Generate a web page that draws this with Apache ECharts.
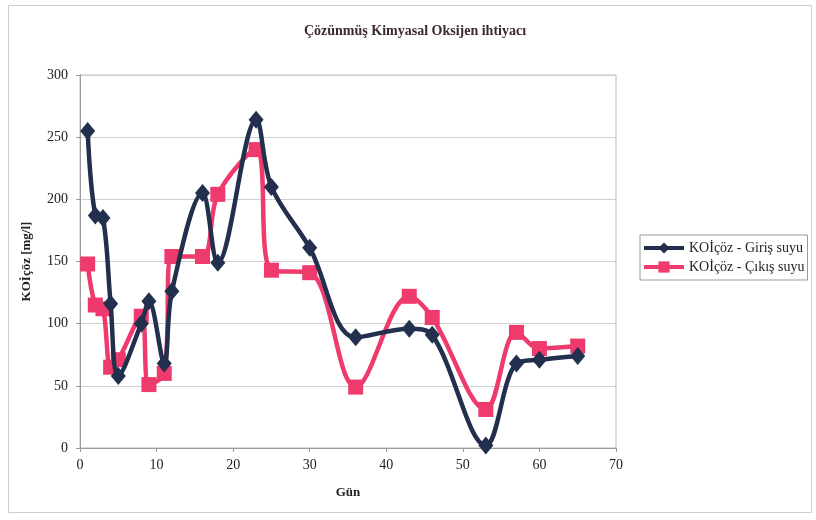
<!DOCTYPE html>
<html>
<head>
<meta charset="utf-8">
<script src="https://cdn.jsdelivr.net/npm/echarts@6/dist/echarts.min.js"></script>
<style>html,body{margin:0;padding:0;background:#fff}#c{width:816px;height:520px}</style>
</head>
<body>
<div id="c"></div>
<script>
const titleText = 'Çözünmüş Kimyasal Oksijen ihtiyacı';
const xName = 'Gün';
const yName = 'KOİçöz [mg/l]';
const seriesNames = ['KOİçöz - Giriş suyu', 'KOİçöz - Çıkış suyu'];
const days = [1, 2, 3, 4, 5, 8, 9, 11, 12, 16, 18, 23, 25, 30, 36, 43, 46, 53, 57, 60, 65];
const giris = [255, 187, 185, 116, 58, 100, 118, 68, 126, 205, 149, 264, 210, 161, 89, 96, 91, 2, 68, 71, 74];
const cikis = [148, 115, 112, 65, 71, 106, 51, 60, 154, 154, 204, 240, 143, 141, 49, 122, 105, 31, 93, 80, 82];
const xTicks = [0, 10, 20, 30, 40, 50, 60, 70];
const yTicks = [0, 50, 100, 150, 200, 250, 300];

const serif = '"Liberation Serif", "DejaVu Serif", serif';
const chart = echarts.init(document.getElementById('c'));
const pair = (xs, ys) => xs.map((x, i) => [x, ys[i]]);

chart.setOption({
  backgroundColor: '#ffffff',
  animation: false,
  title: {
    text: titleText, left: 410, top: 19, textAlign: 'center',
    textStyle: { fontFamily: serif, fontSize: 14, fontWeight: 'bold', color: '#3a2a2a' }
  },
  graphic: [{
    type: 'rect', shape: { x: 8.5, y: 5.5, width: 803, height: 507 },
    style: { fill: 'none', stroke: '#d4ccc4', lineWidth: 1 }, z: -1
  }],
  grid: { left: 80, top: 75, right: 200, bottom: 72, show: true, borderColor: '#b8b8b8', borderWidth: 1 },
  legend: {
    orient: 'vertical', left: 640, top: 235,
    itemWidth: 40, itemHeight: 14, itemGap: 5,
    padding: [6, 3, 6, 2],
    borderColor: '#9a9a9a', borderWidth: 1,
    lineStyle: { width: 4 },
    textStyle: { fontFamily: serif, fontSize: 14, color: '#222' },
    data: seriesNames
  },
  xAxis: {
    type: 'value', min: xTicks[0], max: xTicks[xTicks.length - 1], interval: 10,
    name: xName, nameLocation: 'middle', nameGap: 38,
    nameTextStyle: { fontFamily: serif, fontSize: 13, fontWeight: 'bold', color: '#222' },
    axisLine: { lineStyle: { color: '#9a9a9a' } },
    axisTick: { show: true, length: 4, lineStyle: { color: '#9a9a9a' } },
    axisLabel: { fontFamily: serif, fontSize: 14, color: '#222', margin: 10 },
    splitLine: { show: false }
  },
  yAxis: {
    type: 'value', min: yTicks[0], max: yTicks[yTicks.length - 1], interval: 50,
    name: yName, nameLocation: 'middle', nameGap: 47, nameRotate: 90,
    nameTextStyle: { fontFamily: serif, fontSize: 13, fontWeight: 'bold', color: '#222' },
    axisLine: { show: true, lineStyle: { color: '#9a9a9a' } },
    axisTick: { show: true, length: 4, lineStyle: { color: '#9a9a9a' } },
    axisLabel: { fontFamily: serif, fontSize: 14, color: '#222', margin: 12 },
    splitLine: { show: true, lineStyle: { color: '#cfcfcf', width: 1 } }
  },
  series: [
    {
      name: seriesNames[0], type: 'line', data: pair(days, giris), smooth: 0.35,
      symbol: 'diamond', symbolSize: [15, 18],
      lineStyle: { color: '#22304d', width: 4.5 },
      itemStyle: { color: '#22304d' }, z: 3
    },
    {
      name: seriesNames[1], type: 'line', data: pair(days, cikis), smooth: 0.35,
      symbol: 'rect', symbolSize: 15,
      lineStyle: { color: '#ee3a6c', width: 4.5 },
      itemStyle: { color: '#ee3a6c' }, z: 2
    }
  ]
});
</script>
</body>
</html>
